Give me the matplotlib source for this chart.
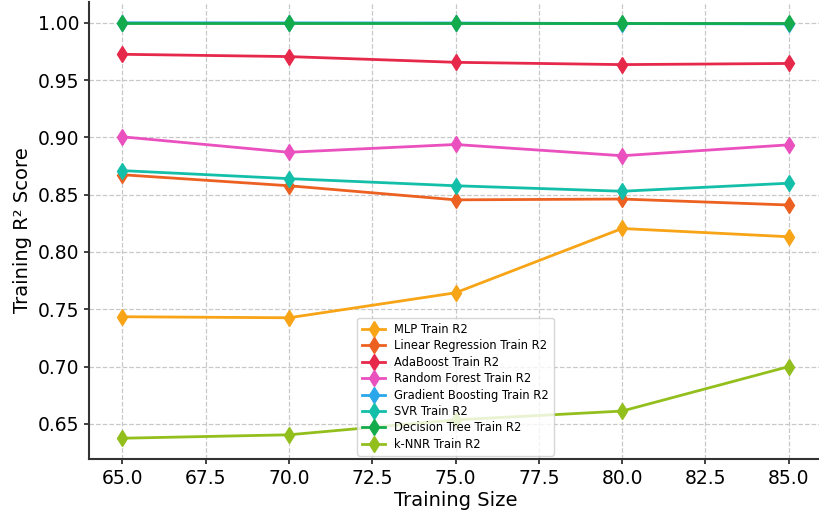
import numpy as np
import matplotlib
matplotlib.use('Agg')
import matplotlib.pyplot as plt

train_sizes = [65, 70, 75, 80, 85]

mlp = [0.7435, 0.7426, 0.7644, 0.8205, 0.8133]
linear_regression = [0.8674, 0.8578, 0.8455, 0.8462, 0.8410]
adaboost = [0.9725, 0.9705, 0.9655, 0.9635, 0.9645]
random_forest = [0.9005, 0.8870, 0.8938, 0.8840, 0.8935]
gradient_boosting = [1.0000, 0.9999, 0.9998, 0.9993, 0.9990]
svr = [0.8710, 0.8640, 0.8578, 0.8530, 0.8600]
decision_tree = [1.0000, 1.0000, 1.0000, 1.0000, 1.0000]
knnr = [0.6375, 0.6405, 0.6535, 0.6612, 0.7000]

series = [
    ("MLP Train R2", mlp, '#f7a416'),
    ("Linear Regression Train R2", linear_regression, '#ec6121'),
    ("AdaBoost Train R2", adaboost, '#e6284b'),
    ("Random Forest Train R2", random_forest, '#ea50be'),
    ("Gradient Boosting Train R2", gradient_boosting, '#2aa7ea'),
    ("SVR Train R2", svr, '#14bfaa'),
    ("Decision Tree Train R2", decision_tree, '#14ab4c'),
    ("k-NNR Train R2", knnr, '#93bf1d'),
]

fig = plt.figure(figsize=(8.19, 5.15), dpi=100)
ax = fig.add_axes([89 / 819, 56 / 515, 733 / 819, 457 / 515])

for label, vals, color in series:
    ax.plot(train_sizes, vals, marker='d', markersize=8, linewidth=2,
            color=color, label=label)

ax.set_xlabel('Training Size', fontsize=14, labelpad=2)
ax.set_ylabel('Training R² Score', fontsize=14)
ax.tick_params(labelsize=13.5, color='#333333', width=1.3)
ax.set_xticks(np.arange(65, 85.1, 2.5))
ax.grid(True, linestyle='--', color='#c8c8c8', linewidth=0.9)
for side in ['top', 'right']:
    ax.spines[side].set_visible(False)
for side in ['left', 'bottom']:
    ax.spines[side].set_color('#333333')
    ax.spines[side].set_linewidth(1.5)
ax.legend(loc='lower center', fontsize=8.3, labelspacing=0.3,
          borderaxespad=0.3)

fig.savefig('out.png', dpi=100)
